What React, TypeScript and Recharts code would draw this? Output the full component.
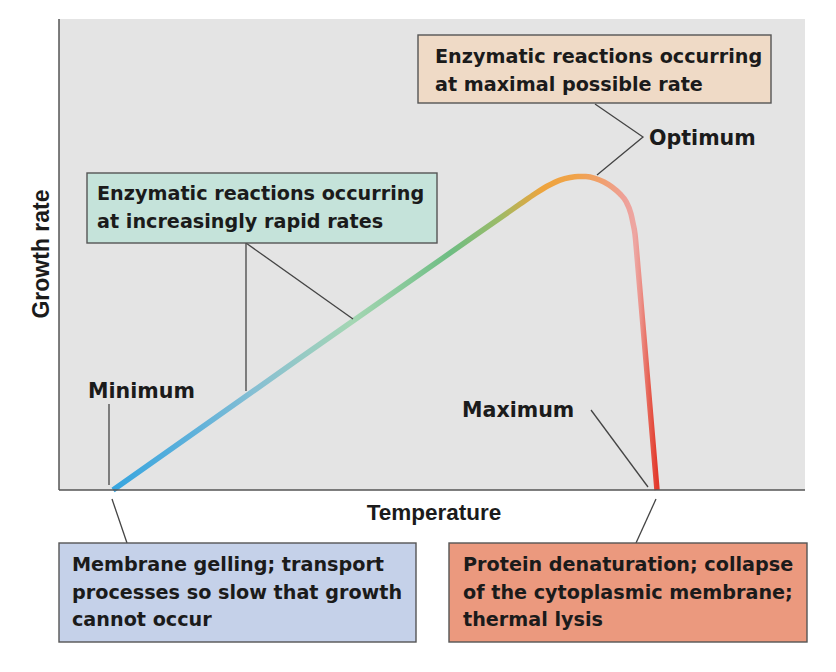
import React from 'react';
import { ComposedChart, Line, XAxis, YAxis, CartesianGrid } from 'recharts';

// Temperature (relative units, 0-100) and growth rate (relative units, 0-100)
const temperature = [
  7.24, 32.31, 52.41, 61.8, 63.81, 65.55, 67.16, 68.5, 69.57, 70.64, 71.85, 73.06, 74.13, 75.2, 76.01, 76.68, 76.94,
  77.21, 77.41, 77.61, 78.95, 80.16,
];
const growthRate = [
  0, 28.0, 50.3, 60.7, 62.9, 64.6, 65.8, 66.35, 66.56, 66.54, 66.18, 65.39, 64.33, 62.85, 61.25, 58.6, 56.69, 54.35,
  50.96, 47.24, 22.51, 0,
];

const axisTitles = { x: 'Temperature', y: 'Growth rate' };
const pointLabels = ['Minimum', 'Optimum', 'Maximum'];
const boxMinimum = ['Membrane gelling; transport', 'processes so slow that growth', 'cannot occur'];
const boxMaximum = ['Protein denaturation; collapse', 'of the cytoplasmic membrane;', 'thermal lysis'];
const boxRising = ['Enzymatic reactions occurring', 'at increasingly rapid rates'];
const boxOptimum = ['Enzymatic reactions occurring', 'at maximal possible rate'];

const data = temperature.map((t, i) => ({ temp: t, rate: growthRate[i] }));

const gradientStops: [number, string][] = [
  [0, '#37a5df'],
  [0.16, '#62b2da'],
  [0.26, '#86bfd3'],
  [0.34, '#95c9c6'],
  [0.44, '#a4d6b3'],
  [0.62, '#6ebd83'],
  [0.71, '#9cbb68'],
  [0.75, '#c9ae4e'],
  [0.79, '#eea43e'],
  [0.85, '#f0a34a'],
  [0.9, '#f0a070'],
  [0.94, '#eea098'],
  [0.96, '#eda6a2'],
  [0.97, '#ec928a'],
  [0.985, '#e66254'],
  [1, '#e2392c'],
];

const LINE = '#444';
const TEXT = '#1b1b1b';
const BOX_FONT = '"DejaVu Sans", sans-serif';
const LABEL_FONT = '"DejaVu Sans", sans-serif';
const TITLE_FONT = '"Liberation Sans", Arial, sans-serif';

function Box({ x, y, w, h, fill, lines, tx, ty, lh }: { x: number; y: number; w: number; h: number; fill: string; lines: string[]; tx: number; ty: number; lh: number }) {
  return (
    <g>
      <rect x={x} y={y} width={w} height={h} fill={fill} stroke="#555" strokeWidth={1.4} />
      <text x={tx} y={ty} fill={TEXT} fontFamily={BOX_FONT} fontWeight={700} fontSize={19.2}>
        {lines.map((l, i) => (
          <tspan key={i} x={tx} y={ty + i * lh}>
            {l}
          </tspan>
        ))}
      </text>
    </g>
  );
}

export default function App() {
  return (
    <div style={{ position: 'absolute', left: 0, top: 0, width: 836, height: 672, background: '#fff' }}>
      <ComposedChart width={836} height={672} data={data} margin={{ top: 19, right: 31, bottom: 181, left: 58 }}>
        <defs>
          <linearGradient id="curveGrad" x1="0" y1="0" x2="1" y2="0">
            {gradientStops.map(([o, c], i) => (
              <stop key={i} offset={o} stopColor={c} />
            ))}
          </linearGradient>
        </defs>
        <CartesianGrid fill="#e4e4e4" stroke="none" horizontal={false} vertical={false} />
        <XAxis
          type="number"
          dataKey="temp"
          domain={[0, 100]}
          tick={false}
          tickLine={false}
          axisLine={{ stroke: '#555', strokeWidth: 1.5 }}
          height={1}
        />
        <YAxis
          type="number"
          domain={[0, 100]}
          tick={false}
          tickLine={false}
          axisLine={{ stroke: '#555', strokeWidth: 1.5 }}
          width={1}
        />
        <Line
          dataKey="rate"
          type="monotone"
          stroke="url(#curveGrad)"
          strokeWidth={5.5}
          dot={false}
          activeDot={false}
          isAnimationActive={false}
        />
      </ComposedChart>
      <svg width={836} height={672} style={{ position: 'absolute', left: 0, top: 0, pointerEvents: 'none' }}>
        {/* axis titles */}
        <text x={434} y={520} textAnchor="middle" fill={TEXT} fontFamily={TITLE_FONT} fontWeight={700} fontSize={22.5}>
          {axisTitles.x}
        </text>
        <text
          transform="translate(49,254) rotate(-90)"
          textAnchor="middle"
          fill={TEXT}
          fontFamily={TITLE_FONT}
          fontWeight={700}
          fontSize={23}
        >
          {axisTitles.y}
        </text>

        {/* leader lines */}
        <g stroke={LINE} strokeWidth={1.3} fill="none">
          <line x1={109} y1={404} x2={109} y2={485} />
          <line x1={112} y1={499} x2={127} y2={543} />
          <line x1={246} y1={243} x2={246} y2={391} />
          <line x1={246} y1={243} x2={353} y2={319} />
          <polyline points="595,104 643,137 597,175" />
          <line x1={591} y1={410} x2={648} y2={487} />
          <line x1={656} y1={499} x2={636} y2={543} />
        </g>

        {/* point labels */}
        <g fill={TEXT} fontFamily={LABEL_FONT} fontWeight={700} fontSize={20.6}>
          <text x={88} y={398}>{pointLabels[0]}</text>
          <text x={649} y={145}>{pointLabels[1]}</text>
          <text x={462} y={417}>{pointLabels[2]}</text>
        </g>

        {/* boxes */}
        <Box x={87} y={173} w={350} h={70} fill="#c5e3da" lines={boxRising} tx={97} ty={200} lh={28} />
        <Box x={418} y={35} w={353} h={68} fill="#efdac6" lines={boxOptimum} tx={435} ty={63} lh={27.5} />
        <Box x={59} y={543} w={357} h={99} fill="#c5d1e9" lines={boxMinimum} tx={72} ty={571} lh={27.5} />
        <Box x={449} y={543} w={358} h={99} fill="#eb997e" lines={boxMaximum} tx={463} ty={571} lh={27.5} />
      </svg>
    </div>
  );
}
